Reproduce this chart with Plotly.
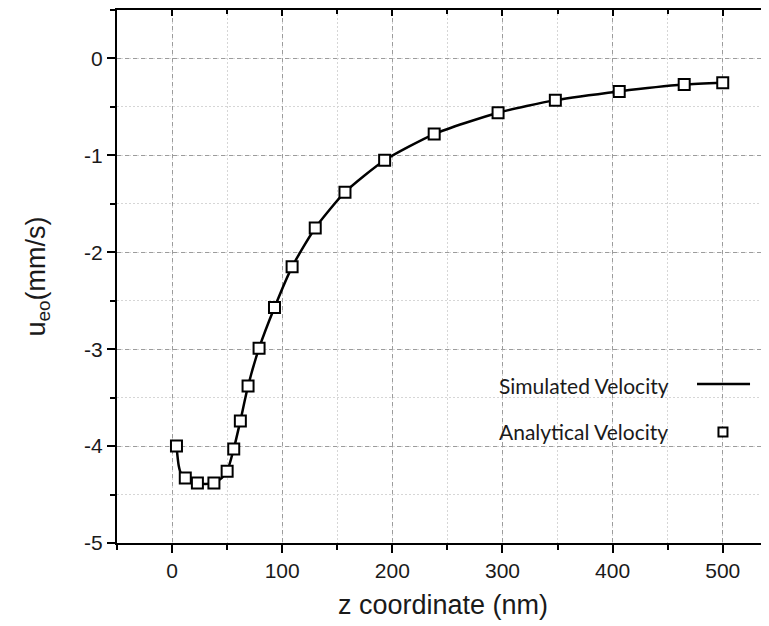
import plotly.graph_objects as go

# Simulated velocity (solid line)
z_sim = [4, 6, 8, 12, 17, 23, 30, 38, 45, 50, 56, 62, 69, 79, 93, 109, 130, 157,
         193, 238, 296, 348, 406, 465, 500]
u_sim = [-4.0, -4.2, -4.28, -4.33, -4.36, -4.38, -4.39, -4.38, -4.33, -4.26, -4.03,
         -3.74, -3.38, -2.99, -2.57, -2.15, -1.75, -1.38, -1.05, -0.78, -0.56, -0.43,
         -0.34, -0.27, -0.25]

# Analytical velocity (open squares)
z_ana = [4, 12, 23, 38, 50, 56, 62, 69, 79, 93, 109, 130, 157, 193, 238, 296, 348,
         406, 465, 500]
u_ana = [-4.0, -4.33, -4.38, -4.38, -4.26, -4.03, -3.74, -3.38, -2.99, -2.57, -2.15,
         -1.75, -1.38, -1.05, -0.78, -0.56, -0.43, -0.34, -0.27, -0.25]

x_ticks = [0, 100, 200, 300, 400, 500]
x_ticktext = ["0", "100", "200", "300", "400", "500"]
y_ticks = [0, -1, -2, -3, -4, -5]
y_ticktext = ["0", "-1", "-2", "-3", "-4", "-5"]

series_names = ["Simulated Velocity", "Analytical Velocity"]

fig = go.Figure()
fig.add_trace(go.Scatter(x=z_sim, y=u_sim, mode="lines", name=series_names[0],
                         line=dict(color="black", width=2.5, shape="spline", smoothing=0.6),
                         showlegend=False))
fig.add_trace(go.Scatter(x=z_ana, y=u_ana, mode="markers", name=series_names[1],
                         marker=dict(symbol="square", size=11, color="white",
                                     line=dict(color="black", width=2)),
                         showlegend=False))
# empty trace so that the mirrored top axis is drawn
fig.add_trace(go.Scatter(x=[], y=[], xaxis="x2", showlegend=False, hoverinfo="skip"))

tickfont = dict(family="Liberation Sans, Arial, sans-serif", size=21, color="#1a1a1a")
titlefont = dict(family="Liberation Sans, Arial, sans-serif", size=27, color="#1a1a1a")

major_grid = dict(showgrid=True, gridcolor="#9c9c9c", griddash="4px,4px", gridwidth=1)
minor_grid_color = "#d6d6d6"

# the page body has an 8px margin, so the figure is 8px smaller and shifted
fig.update_layout(
    width=761, height=618,
    margin=dict(l=109, r=0, t=2, b=83),
    paper_bgcolor="white", plot_bgcolor="white",
    xaxis=dict(range=[-50, 542], tickvals=x_ticks, ticktext=x_ticktext,
               showline=True, linecolor="black", linewidth=2,
               ticks="outside", ticklen=8, tickwidth=2, tickcolor="black",
               zeroline=False, tickfont=tickfont, **major_grid,
               minor=dict(dtick=50, tick0=0, ticks="outside", ticklen=5, tickwidth=2,
                          tickcolor="black", showgrid=True, gridcolor=minor_grid_color,
                          griddash="2px,2px", gridwidth=1),
               title=dict(text="z coordinate (nm)", font=titlefont, standoff=14)),
    xaxis2=dict(overlaying="x", matches="x", side="top",
                showline=True, linecolor="black", linewidth=2.5,
                tickvals=x_ticks, showticklabels=False,
                ticks="inside", ticklen=6, tickwidth=2, tickcolor="black",
                showgrid=False, zeroline=False,
                minor=dict(dtick=50, tick0=0, ticks="inside", ticklen=4, tickwidth=2,
                           tickcolor="black", showgrid=False)),
    yaxis=dict(range=[-5, 0.5], tickvals=y_ticks, ticktext=y_ticktext,
               showline=True, linecolor="black", linewidth=2,
               ticks="outside", ticklen=8, tickwidth=2, tickcolor="black",
               zeroline=False, tickfont=tickfont, **major_grid,
               minor=dict(dtick=0.5, tick0=0, ticks="outside", ticklen=5, tickwidth=2,
                          tickcolor="black", showgrid=True, gridcolor=minor_grid_color,
                          griddash="2px,2px", gridwidth=1),
               title=dict(text="u<sub>eo</sub>(mm/s)", font=titlefont, standoff=31)),
)

# legend drawn as text on the left with its key on the right
legfont = dict(family="Lato, Open Sans, sans-serif", size=21, color="#1a1a1a")
fig.add_annotation(xref="paper", yref="paper", x=0.583, y=0.2964, xanchor="left",
                   yanchor="middle", text=series_names[0], showarrow=False, font=legfont)
fig.add_annotation(xref="paper", yref="paper", x=0.583, y=0.210, xanchor="left",
                   yanchor="middle", text=series_names[1], showarrow=False, font=legfont)
fig.add_shape(type="line", xref="paper", yref="paper", x0=0.8896, x1=0.9709,
              y0=0.2983, y1=0.2983, line=dict(color="black", width=2.5))
fig.add_shape(type="rect", xref="paper", yref="paper", x0=0.9294 - 0.0069, x1=0.9294 + 0.0069,
              y0=0.2083 - 0.0084, y1=0.2083 + 0.0084, fillcolor="white",
              line=dict(color="black", width=2))

fig.write_html("out.html")
